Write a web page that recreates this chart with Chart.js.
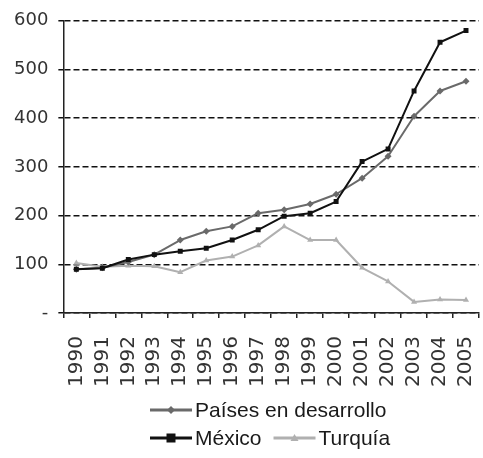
<!DOCTYPE html>
<html>
<head>
<meta charset="utf-8">
<script src="https://cdn.jsdelivr.net/npm/chart.js@4"></script>
<style>
html,body{margin:0;padding:0;background:#fff;}
#wrap{width:483px;height:458px;position:relative;}
</style>
</head>
<body>
<div id="wrap"><canvas id="c" width="483" height="458"></canvas></div>
<script>
const years = ['1990','1991','1992','1993','1994','1995','1996','1997','1998','1999','2000','2001','2002','2003','2004','2005'];
const paises = [90, 93, 105, 120, 150, 168, 178, 205, 212, 224, 244, 277, 322, 404, 456, 476];
const mexico = [90, 92, 110, 120, 127, 133, 150, 171, 199, 205, 229, 311, 337, 456, 556, 580];
const turquia = [103, 95, 97, 96, 84, 108, 116, 139, 178, 150, 150, 93, 65, 23, 28, 27];
const seriesNames = ['Países en desarrollo', 'México', 'Turquía'];
const yTicks = [0, 100, 200, 300, 400, 500, 600];

const legendRows = [[0], [1, 2]];

const customLegend = {
  id: 'customLegend',
  afterDraw(chart) {
    const ctx = chart.ctx;
    const ds = chart.data.datasets;
    ctx.save();
    ctx.font = '21px "Liberation Sans", Arial, sans-serif';
    ctx.textBaseline = 'middle';
    ctx.textAlign = 'left';
    const rowY = [chart.height - 48, chart.height - 20];
    legendRows.forEach((row, r) => {
      let x = 150;
      const y = rowY[r];
      row.forEach((i) => {
        const d = ds[i];
        const lineLen = 42;
        ctx.strokeStyle = d.borderColor;
        ctx.lineWidth = 3;
        ctx.setLineDash([]);
        ctx.beginPath();
        ctx.moveTo(x, y);
        ctx.lineTo(x + lineLen, y);
        ctx.stroke();
        const cx = x + lineLen / 2;
        ctx.fillStyle = d.borderColor;
        ctx.beginPath();
        if (d.pointStyle === 'rect') {
          ctx.rect(cx - 4.5, y - 4.5, 9, 9);
        } else if (d.pointStyle === 'rectRot') {
          ctx.moveTo(cx, y - 4); ctx.lineTo(cx + 4, y); ctx.lineTo(cx, y + 4); ctx.lineTo(cx - 4, y); ctx.closePath();
        } else {
          ctx.moveTo(cx, y - 4); ctx.lineTo(cx + 4, y + 3); ctx.lineTo(cx - 4, y + 3); ctx.closePath();
        }
        ctx.fill();
        ctx.fillStyle = '#1a1a1a';
        const tx = x + lineLen + 3;
        ctx.fillText(d.label, tx, y + 1);
        x = tx + ctx.measureText(d.label).width + 12;
      });
    });
    ctx.restore();
  }
};

new Chart(document.getElementById('c'), {
  type: 'line',
  data: {
    labels: years,
    datasets: [
      { label: seriesNames[0], data: paises, borderColor: '#6a6a6a', backgroundColor: '#6a6a6a', borderWidth: 2, pointStyle: 'rectRot', pointRadius: 3.5, pointBorderWidth: 0, tension: 0, order: 1 },
      { label: seriesNames[1], data: mexico, borderColor: '#111111', backgroundColor: '#111111', borderWidth: 2, pointStyle: 'rect', pointRadius: 3.5, pointBorderWidth: 0, tension: 0, order: 0 },
      { label: seriesNames[2], data: turquia, borderColor: '#b0b0b0', backgroundColor: '#b0b0b0', borderWidth: 2, pointStyle: 'triangle', pointRadius: 3.5, pointBorderWidth: 0, tension: 0, order: 2 }
    ]
  },
  options: {
    responsive: false,
    animation: false,
    devicePixelRatio: 1,
    layout: { padding: { top: 19, left: 4, right: -7, bottom: 53 } },
    plugins: { legend: { display: false }, tooltip: { enabled: false } },
    elements: { line: { borderJoinStyle: 'round' } },
    scales: {
      x: {
        type: 'category',
        offset: true,
        grid: { display: true, offset: true, drawOnChartArea: false, drawTicks: true, tickLength: 5, color: '#222', lineWidth: 1.5 },
        border: { display: true, color: '#222', width: 1.5 },
        ticks: { minRotation: 90, maxRotation: 90, autoSkip: false, padding: 18, color: '#333', font: { family: '"DejaVu Sans", sans-serif', size: 20 } },
        afterFit(s) { s.paddingLeft = 0; s.paddingRight = 0; }
      },
      y: {
        min: 0,
        max: 600,
        afterBuildTicks(s) { s.ticks = yTicks.map(v => ({ value: v })); },
        grid: { color: '#111', lineWidth: 1.5, drawTicks: true, tickLength: 5, borderDash: [6, 3] },
        border: { display: true, color: '#222', width: 1.5, dash: [6, 3] },
        ticks: { padding: 10, color: '#333', font: { family: '"DejaVu Sans", sans-serif', size: 18 }, callback: (v) => v === 0 ? '-' : String(v) }
      }
    }
  },
  plugins: [customLegend]
});
</script>
</body>
</html>
